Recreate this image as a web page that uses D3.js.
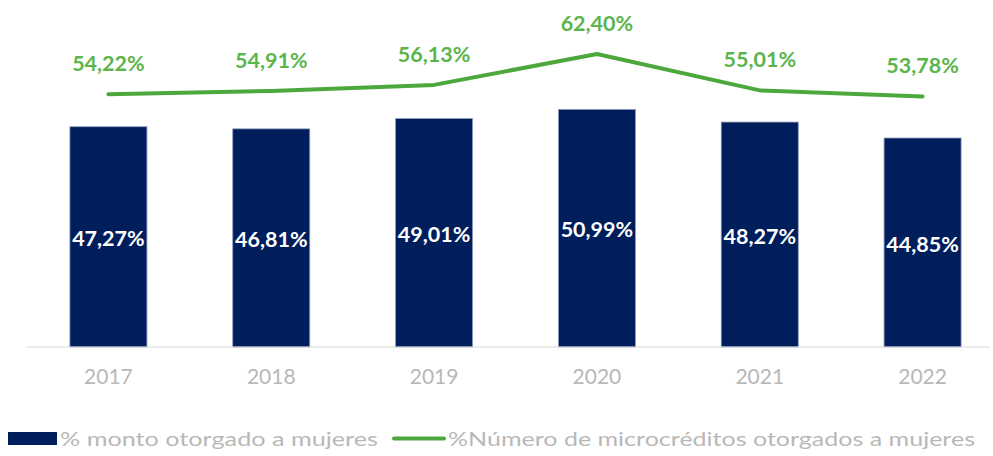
<!DOCTYPE html>
<html>
<head>
<meta charset="utf-8">
<script src="https://cdn.jsdelivr.net/npm/d3@7"></script>
<style>
  body { margin: 0; background: #fff; }
  svg { display: block; font-family: Lato, "Open Sans", sans-serif; }
</style>
</head>
<body>
<svg width="993" height="456"></svg>
<script>
var years = ["2017", "2018", "2019", "2020", "2021", "2022"];
var montoMujeres = [47.27, 46.81, 49.01, 50.99, 48.27, 44.85];
var numeroMujeres = [54.22, 54.91, 56.13, 62.40, 55.01, 53.78];
var legendLabels = ["% monto otorgado a mujeres", "%Número de microcréditos otorgados a mujeres"];

var navy = "#001e5b", green = "#4ca83c", greenText = "#5bb54a", gray = "#b8b8b8";

var fmt = function(v) { return v.toFixed(2).replace(".", ",") + "%"; };

var data = years.map(function(y, i) {
  return { year: y, monto: montoMujeres[i], numero: numeroMujeres[i] };
});

var svg = d3.select("svg");
var baseline = 347;

var x = d3.scaleBand()
  .domain(years)
  .range([27, 1004])
  .paddingInner(0.527)
  .paddingOuter(0.2635);

var y = d3.scaleLinear().domain([0, 60]).range([baseline, baseline - 60 * 4.66]);
// secondary axis for the line series
var y2 = d3.scaleLinear().domain([0, 70]).range([361.6, 361.6 - 70 * 4.93]);

// bars
svg.append("g")
  .selectAll("rect")
  .data(data)
  .enter().append("rect")
  .attr("x", function(d) { return x(d.year); })
  .attr("y", function(d) { return y(d.monto); })
  .attr("width", x.bandwidth())
  .attr("height", function(d) { return baseline - y(d.monto); })
  .attr("fill", navy)
  .attr("stroke", "#8c9bbd")
  .attr("stroke-width", 0.8);

// bar labels
svg.append("g")
  .selectAll("text")
  .data(data)
  .enter().append("text")
  .attr("x", function(d) { return x(d.year) + x.bandwidth() / 2; })
  .attr("y", function(d) { return (y(d.monto) + baseline) / 2; })
  .attr("dy", "0.42em")
  .attr("text-anchor", "middle")
  .attr("fill", "#fff")
  .attr("font-weight", "bold")
  .attr("font-size", 21.5)
  .text(function(d) { return fmt(d.monto); });

// x axis
var xAxis = svg.append("g")
  .attr("transform", "translate(0," + baseline + ")")
  .call(d3.axisBottom(x).tickSize(0).tickPadding(22));
xAxis.select(".domain").remove();
xAxis.append("line")
  .attr("x1", 27).attr("x2", 990)
  .attr("stroke", "#d9d9d9").attr("stroke-width", 1.2);
xAxis.selectAll(".tick text")
  .attr("fill", gray)
  .attr("font-size", 21)
  .attr("font-family", "Lato, 'Open Sans', sans-serif");

// line
var line = d3.line()
  .x(function(d) { return x(d.year) + x.bandwidth() / 2; })
  .y(function(d) { return y2(d.numero); });

svg.append("path")
  .datum(data)
  .attr("fill", "none")
  .attr("stroke", green)
  .attr("stroke-width", 4)
  .attr("stroke-linejoin", "round")
  .attr("stroke-linecap", "round")
  .attr("d", line);

svg.append("g")
  .selectAll("text")
  .data(data)
  .enter().append("text")
  .attr("x", function(d) { return x(d.year) + x.bandwidth() / 2; })
  .attr("y", function(d) { return y2(d.numero) - 23; })
  .attr("text-anchor", "middle")
  .attr("fill", greenText)
  .attr("font-weight", "bold")
  .attr("font-size", 21.5)
  .text(function(d) { return fmt(d.numero); });

// legend
var legend = svg.append("g");
legend.append("rect")
  .attr("x", 8).attr("y", 432).attr("width", 49).attr("height", 13)
  .attr("fill", navy);
legend.append("text")
  .attr("x", 60).attr("y", 446)
  .attr("fill", gray).attr("font-size", 19)
  .attr("textLength", 318).attr("lengthAdjust", "spacingAndGlyphs")
  .text(legendLabels[0]);
legend.append("line")
  .attr("x1", 394).attr("x2", 444).attr("y1", 438.5).attr("y2", 438.5)
  .attr("stroke", green).attr("stroke-width", 4).attr("stroke-linecap", "round");
legend.append("text")
  .attr("x", 448).attr("y", 446)
  .attr("fill", gray).attr("font-size", 19)
  .attr("textLength", 527).attr("lengthAdjust", "spacingAndGlyphs")
  .text(legendLabels[1]);
</script>
</body>
</html>
